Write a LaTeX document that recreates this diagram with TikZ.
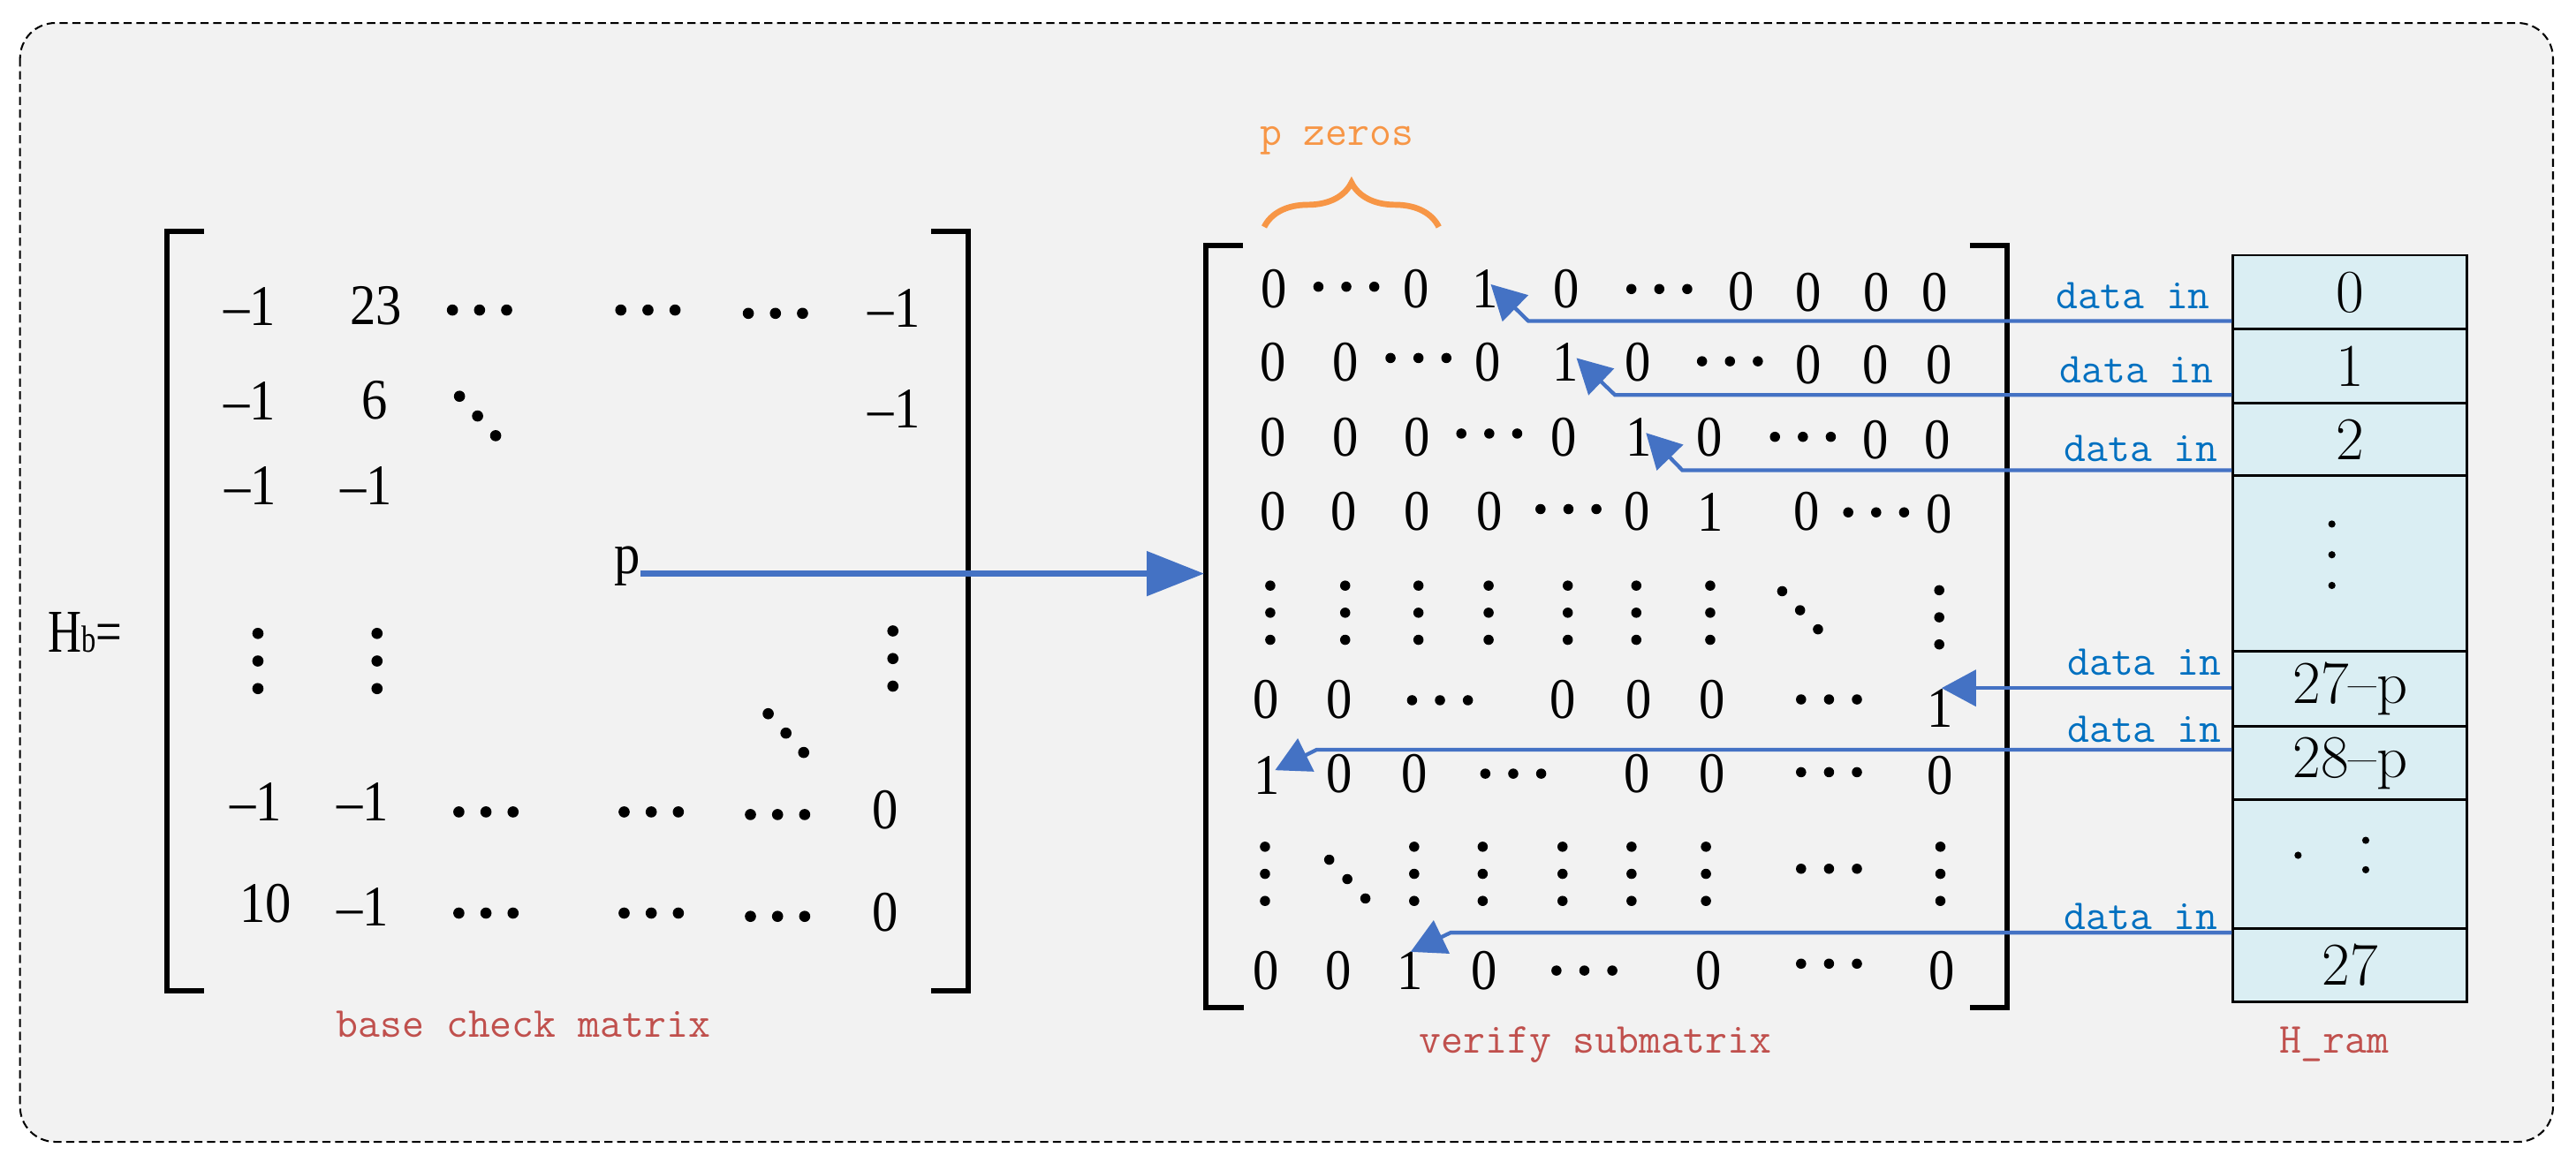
\documentclass[tikz,border=0pt]{standalone}
\usepackage{fontspec}
\usetikzlibrary{arrows.meta,decorations.pathreplacing}
\newfontfamily\numfont[FakeStretch=0.9]{Liberation Serif}
\definecolor{bgray}{HTML}{F2F2F2}
\definecolor{arrblue}{HTML}{4472C4}
\definecolor{txtblue}{HTML}{0070C0}
\definecolor{lblred}{HTML}{C0504D}
\definecolor{braceor}{HTML}{F79646}
\definecolor{cellblue}{HTML}{DAEEF3}
\newcommand\dotH[4]{\foreach \k in {-1,0,1}{\fill (#1+\k*#3,#2) circle (#4);}}
\newcommand\dotV[4]{\foreach \k in {-1,0,1}{\fill (#1,#2+\k*#3) circle (#4);}}
\newcommand\dotD[5]{\foreach \k in {-1,0,1}{\fill (#1+\k*#3,#2+\k*#4) circle (#5);}}
\tikzset{
  mnum/.style={font=\numfont\fontsize{35}{35}\selectfont, inner sep=0pt, anchor=center},
  lbl/.style={font=\ttfamily\fontsize{26}{26}\selectfont, text=lblred, inner sep=0pt, anchor=base},
  din/.style={font=\ttfamily\fontsize{26}{26}\selectfont, text=txtblue, inner sep=0pt, anchor=base east},
  cell/.style={draw, line width=1.6pt, fill=cellblue, minimum width=142.5pt, inner sep=0pt,
               font=\fontsize{37}{37}\selectfont, anchor=north west},
  brk/.style={line width=3.2pt},
  arr/.style={draw=arrblue, line width=2.3pt, -{Triangle[length=21pt,width=22pt]}},
  parr/.style={draw=arrblue, line width=4pt, -{Triangle[length=35pt,width=26.5pt]}}
}
\begin{document}
\begin{tikzpicture}[x=1pt,y=-1pt]
\useasboundingbox (0,0) rectangle (1568,708);
\fill[white] (0,0) rectangle (1568,708);
% outer frame
\draw[fill=bgray, line width=1.1pt, dash pattern=on 5pt off 2.8pt, rounded corners=21.5pt] (12.2,14) rectangle (1554,695.3);

% ---------- base check matrix ----------
\node[font=\numfont\fontsize{37}{37}\selectfont, anchor=base west, inner sep=0pt, xscale=0.85] (hb) at (29,397) {H{\fontsize{23}{23}\selectfont b}=};
\draw[brk] (124,141.1) -- (101.8,141.1) -- (101.8,603.2) -- (124,603.2);
\draw[brk] (566.8,141.1) -- (589.2,141.1) -- (589.2,603.2) -- (566.8,603.2);
\foreach \x/\y/\t [count=\i] in {151.8/186.4/–1, 228.7/186.4/23, 544.3/187.5/–1,
  151.8/244/–1, 228/244/6, 544.3/248.8/–1,
  152.6/296/–1, 222.8/296/–1,
  155.8/488.2/–1, 220.9/488.2/–1, 539.1/493.4/0,
  161.7/550/10, 220.9/552/–1, 539.1/555.8/0}
  \node[mnum] (b\i) at (\x,\y) {\t};
\node[mnum, anchor=base] (p) at (381.8,349.3) {p};
\foreach \x/\y in {291.9/188.8, 394.4/188.8, 472/190.8, 295.8/494.4, 396.4/494.4, 473.3/496, 295.8/556, 396.4/556, 473.3/558}
  {\dotH{\x}{\y}{16.5}{3.4pt}}
\foreach \x/\y in {157/402.5, 229.5/402.5, 543.5/401}
  {\dotV{\x}{\y}{16.8}{3.4pt}}
\dotD{290.7}{253.3}{11}{12}{3.4pt}
\dotD{478.4}{446.4}{10.8}{11.8}{3.4pt}
\node[lbl] (bcm) at (318.5,631.5) {base check matrix};

% ---------- verify submatrix ----------
\node[font=\ttfamily\fontsize{26}{26}\selectfont, text=braceor, inner sep=0pt, anchor=base] (pz) at (813.7,88.2) {p zeros};
\draw[braceor, line width=3.6pt, decorate, decoration={brace, amplitude=27pt}] (769.5,138.2) -- (875.8,138.2);
\draw[brk] (756.6,149.5) -- (734.1,149.5) -- (734.1,613.5) -- (756.9,613.5);
\draw[brk] (1199,149.5) -- (1221.8,149.5) -- (1221.8,613.5) -- (1199,613.5);
\foreach \x/\y/\t [count=\i] in {
  775.5/176/0, 861.8/176/0, 904.2/176/1, 953.7/176/0, 1059.9/177.5/0, 1100.6/178/0, 1142/178/0, 1177.8/178/0,
  774.8/220.6/0, 818.8/220.6/0, 905.5/220.6/0, 953/220.6/1, 997/220.6/0, 1100.6/222/0, 1141.4/222/0, 1180.4/222/0,
  774.8/266.4/0, 818.8/266.4/0, 862.8/266.4/0, 952/266.4/0, 997.4/266.4/1, 1040.4/266.4/0, 1141.4/268/0, 1179.5/268/0,
  774.8/311.7/0, 818.2/311.7/0, 862.8/311.7/0, 906.5/311.7/0, 996.4/311.7/0, 1041/311.7/1, 1099.6/311.7/0, 1180.4/313/0,
  770.6/425.9/0, 815.5/425.9/0, 951.1/425.9/0, 997.4/425.9/0, 1042.3/425.9/0, 1181.1/431.5/1,
  771.2/472/1, 815.5/471.1/0, 860.8/471.1/0, 996.4/471.1/0, 1042/471.1/0, 1181.1/472/0,
  770.6/590.9/0, 814.6/590.9/0, 858.5/590.9/1, 903.5/590.9/0, 1040/590.9/0, 1181.8/590.9/0}
  \node[mnum] (v\i) at (\x,\y) {\t};
\foreach \x/\y in {819.5/174.6, 1010/176, 863.4/218, 1053/220, 906.5/264, 1097.4/266, 954.7/310, 1142/312,
  876.5/426.4, 1113.3/425.9, 921.1/471.1, 1113.3/470.2, 1113.3/529, 964.4/591, 1113.3/586.8}
  {\dotH{\x}{\y}{17}{3.1pt}}
\foreach \x/\y in {773.2/373.1, 818.8/373.1, 863.4/373.1, 906.1/373.1, 954.3/373.1, 996/373.1, 1041/373.1, 1180.4/375.9,
  770/532.1, 860.8/532.1, 902.5/532.1, 951.1/532.1, 993.1/532.1, 1038.4/532.1, 1181.1/532.1}
  {\dotV{\x}{\y}{16.5}{3.1pt}}
\dotD{1095.7}{371.6}{10.9}{11.6}{3.1pt}
\dotD{820.1}{535.3}{11}{11.8}{3.1pt}
\node[lbl] (vsm) at (971,641.4) {verify submatrix};

% ---------- H_ram ----------
\node[cell, minimum height=45pt] (r0) at (1358.5,154.6) {0};
\node[cell, minimum height=44.9pt] (r1) at (1358.5,199.6) {1};
\node[cell, minimum height=44.3pt] (r2) at (1358.5,244.5) {2};
\node[cell, minimum height=107.2pt] (rv) at (1358.5,288.8) {};
\node[cell, minimum height=45.3pt] (r27p) at (1358.5,396) {27–p};
\node[cell, minimum height=45pt] (r28p) at (1358.5,441.3) {28–p};
\node[cell, minimum height=78.1pt] (rv2) at (1358.5,486.3) {};
\node[cell, minimum height=45pt] (r27) at (1358.5,564.4) {27};
\dotV{1419.4}{337.8}{18.7}{2.2pt}
\fill (1398.8,520.8) circle (2.2pt);
\fill (1440,511.7) circle (2.2pt);
\fill (1440,529.6) circle (2.2pt);
\node[lbl] (hram) at (1420.8,641.4) {H\_ram};

% ---------- data in labels ----------
\node[din] (d0) at (1345.5,188.2) {data in};
\node[din] (d1) at (1347.6,233.1) {data in};
\node[din] (d2) at (1350.2,281) {data in};
\node[din] (d5) at (1352.3,411.3) {data in};
\node[din] (d6) at (1352.3,452) {data in};
\node[din] (d8) at (1350.2,566.1) {data in};

% ---------- connectors ----------
\coordinate (vmL) at (733,349.3);
\draw[parr] (p.base east) -- (vmL);

\coordinate (s0) at (1358.5,195.5); \coordinate (k0) at (930.3,195.5); \coordinate (t0) at (907.4,173.1);
\coordinate (s1) at (1358.5,240.5); \coordinate (k1) at (983,240.5);   \coordinate (t1) at (959.6,218);
\coordinate (s2) at (1358.5,286.3); \coordinate (k2) at (1024,286.3);  \coordinate (t2) at (1001.9,263.6);
\coordinate (s5) at (1358.5,419);   \coordinate (t5) at (1181.8,419);
\coordinate (s6) at (1358.5,456.5); \coordinate (k6) at (801.5,456.5); \coordinate (t6) at (776.1,469);
\coordinate (s8) at (1358.5,567.9); \coordinate (k8) at (883,567.9);   \coordinate (t8) at (858.6,579.6);
\draw[arr] (s0) -- (k0) -- (t0);
\draw[arr] (s1) -- (k1) -- (t1);
\draw[arr] (s2) -- (k2) -- (t2);
\draw[arr] (s5) -- (t5);
\draw[arr] (s6) -- (k6) -- (t6);
\draw[arr] (s8) -- (k8) -- (t8);
\end{tikzpicture}
\end{document}
